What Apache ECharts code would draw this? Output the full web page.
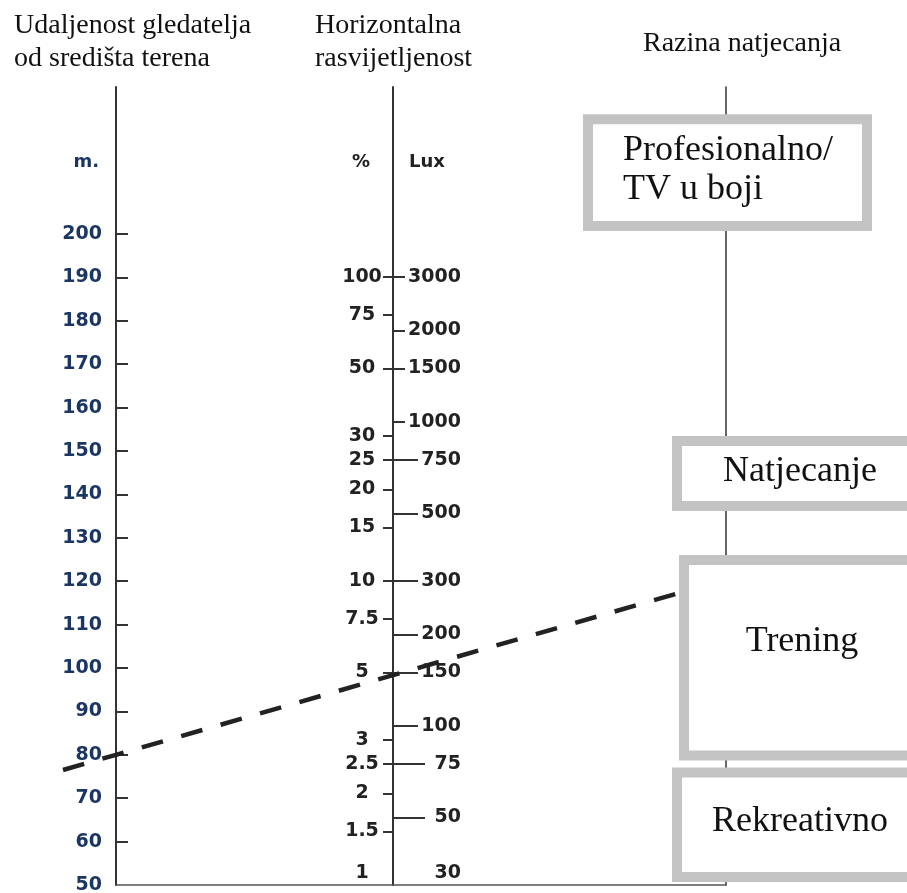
<!DOCTYPE html>
<html>
<head>
<meta charset="utf-8">
<title>Razina natjecanja - nomogram</title>
<script src="https://cdn.jsdelivr.net/npm/echarts@6/dist/echarts.min.js"></script>
<style>
  html, body { margin: 0; padding: 0; background: #fff; }
  #chart { width: 907px; height: 893px; }
</style>
</head>
<body>
<div id="chart"></div>
<script>
// values
const distanceLabels = [50, 60, 70, 80, 90, 100, 110, 120, 130, 140, 150, 160, 170, 180, 190, 200];
const distanceTicks = [60, 70, 80, 90, 100, 110, 120, 130, 140, 150, 160, 170, 180, 190, 200];
const percentLabels = [1, 1.5, 2, 2.5, 3, 5, 7.5, 10, 15, 20, 25, 30, 50, 75, 100];
const percentTicks = [1.5, 2, 2.5, 3, 5, 7.5, 10, 15, 20, 25, 30, 50, 75, 100];
const luxLabels = [30, 50, 75, 100, 150, 200, 300, 500, 750, 1000, 1500, 2000, 3000];
const luxShortTicks = [1000, 1500, 2000, 3000];
const luxMidTicks = [100, 150, 200, 300, 500, 750];
const luxLongTicks = [50, 75];
const levelNames = ['Profesionalno/\nTV u boji', 'Natjecanje', 'Trening', 'Rekreativno'];
const levelLuxTop = [10300, 900, 365, 73];
const levelLuxBottom = [4250, 510, 77, 30.7];
const readDistance = 80;   // m
const readLux = 147;       // lux (≈ 5 %)

// layout
const AXIS_L = 116, AXIS_M = 393, AXIS_R = 726;
const LINE_START = 63, LINE_END = 690;
const TOP = 87, BASE = 885;
const DIST_MAX = 50 + (BASE - TOP) / 4.34;     // 4.34 px per metre
const DECADES = (BASE - TOP) / 304;            // 304 px per decade
const LUX_MIN = Math.log10(30);
const SANS = 'DejaVu Sans';
const SERIF = '"Liberation Serif", "Times New Roman", serif';
const NAVY = '#1c3664';
const INK = '#222';
const levelBox = [
  { x0: 583, x1: 872, tx: 623, align: 'left', dy: -3 },
  { x0: 672, x1: 940, tx: 800, align: 'center', dy: -2 },
  { x0: 679, x1: 940, tx: 802, align: 'center', dy: -16 },
  { x0: 672, x1: 940, tx: 800, align: 'center', dy: -3 }
];

const log = v => Math.log10(v);
const span = AXIS_R - AXIS_L;
const tickLine = { color: '#333', width: 2 };
const lowRich = color => ({ lo: { padding: [0, 0, 24, 0], fontFamily: SANS, fontWeight: 'bold', fontSize: 19, color: color } });
function labelOf(list, value) {
  const hit = list.find(v => Math.abs(log(v) - value) < 1e-9);
  return hit === undefined ? '' : String(hit);
}

function renderLevel(params, api) {
  const i = params.dataIndex;
  const b = levelBox[i];
  const yTop = api.coord([0, api.value(1)])[1];
  const yBot = api.coord([0, api.value(2)])[1];
  return {
    type: 'group',
    children: [
      { type: 'rect', shape: { x: b.x0, y: yTop, width: b.x1 - b.x0, height: yBot - yTop }, style: { fill: '#c3c3c3' } },
      { type: 'rect', shape: { x: b.x0 + 10, y: yTop + 10, width: b.x1 - b.x0 - 20, height: yBot - yTop - 20 }, style: { fill: '#fff' } },
      { type: 'text', style: {
          text: levelNames[i], x: b.tx, y: (yTop + yBot) / 2 + b.dy,
          align: b.align, verticalAlign: 'middle',
          fontFamily: SERIF, fontSize: 36, lineHeight: 39, fill: '#111'
      } }
    ]
  };
}

const chart = echarts.init(document.getElementById('chart'));
const titleStyle = { fontFamily: SERIF, fontSize: 28, fontWeight: 'normal', color: '#111', lineHeight: 33 };

const option = {
  animation: false,
  backgroundColor: '#fff',
  title: [
    { text: 'Udaljenost gledatelja\nod središta terena', left: 14, top: 9, padding: 0, textStyle: titleStyle },
    { text: 'Horizontalna\nrasvijetljenost', left: 315, top: 9, padding: 0, textStyle: titleStyle },
    { text: 'Razina natjecanja', left: 643, top: 27, padding: 0, textStyle: titleStyle }
  ],
  graphic: [
    { type: 'text', x: 99, y: 162, silent: true, style: { text: 'm.', align: 'right', verticalAlign: 'middle', fontFamily: SANS, fontWeight: 'bold', fontSize: 18, fill: NAVY } },
    { type: 'text', x: 361, y: 162, silent: true, style: { text: '%', align: 'center', verticalAlign: 'middle', fontFamily: SANS, fontWeight: 'bold', fontSize: 18, fill: INK } },
    { type: 'text', x: 409, y: 162, silent: true, style: { text: 'Lux', align: 'left', verticalAlign: 'middle', fontFamily: SANS, fontWeight: 'bold', fontSize: 18, fill: INK } }
  ],
  grid: [
    { left: AXIS_L, right: 907 - AXIS_R, top: TOP, bottom: 893 - BASE, outerBoundsMode: 'none' },
    // same vertical scale, wider on the left, for the reading line
    { left: LINE_START, right: 907 - AXIS_R, top: TOP, bottom: 893 - BASE, outerBoundsMode: 'none' }
  ],
  xAxis: [
    {
      type: 'value', gridIndex: 0, min: 0, max: 1,
      axisLine: { show: true, onZero: false, lineStyle: { color: '#555', width: 1.5 } },
      axisTick: { show: false }, axisLabel: { show: false }, splitLine: { show: false }
    },
    {
      type: 'value', gridIndex: 1, min: (LINE_START - AXIS_L) / span, max: 1, show: false,
      axisLine: { onZero: false }, splitLine: { show: false }
    }
  ],
  yAxis: [
    { // distance, metres
      type: 'value', position: 'left', min: 50, max: DIST_MAX,
      axisLine: { show: true, onZero: false, lineStyle: { color: '#333', width: 2 } },
      axisTick: { show: true, inside: true, length: 12, customValues: distanceTicks, lineStyle: tickLine },
      axisLabel: { customValues: distanceLabels, margin: 14, color: NAVY, fontFamily: SANS, fontWeight: 'bold', fontSize: 19, showMinLabel: true, showMaxLabel: true },
      splitLine: { show: false }
    },
    { // illuminance, percent
      type: 'value', position: 'left', offset: AXIS_L - AXIS_M, min: 0, max: DECADES,
      axisLine: { show: true, onZero: false, lineStyle: { color: '#333', width: 2 } },
      axisTick: { show: true, length: 10, customValues: percentTicks.map(log), lineStyle: tickLine },
      axisLabel: {
        customValues: percentLabels.map(log), margin: 31, align: 'center',
        color: INK, fontFamily: SANS, fontWeight: 'bold', fontSize: 19, showMinLabel: true, showMaxLabel: true,
        formatter: v => v === 0 ? '{lo|1}' : labelOf(percentLabels, v), rich: lowRich(INK)
      },
      splitLine: { show: false }
    },
    { // illuminance, lux (labels + short ticks)
      type: 'value', position: 'right', offset: AXIS_M - AXIS_R, min: LUX_MIN, max: LUX_MIN + DECADES,
      axisLine: { show: false, onZero: false },
      axisTick: { show: true, length: 12, customValues: luxShortTicks.map(log), lineStyle: tickLine },
      axisLabel: {
        customValues: luxLabels.map(log), margin: 68, align: 'right',
        color: INK, fontFamily: SANS, fontWeight: 'bold', fontSize: 19, showMinLabel: true, showMaxLabel: true,
        formatter: v => v === LUX_MIN ? '{lo|30}' : labelOf(luxLabels, v), rich: lowRich(INK)
      },
      splitLine: { show: false }
    },
    { // lux, medium ticks
      type: 'value', position: 'right', offset: AXIS_M - AXIS_R, min: LUX_MIN, max: LUX_MIN + DECADES,
      axisLine: { show: false, onZero: false },
      axisTick: { show: true, length: 25, customValues: luxMidTicks.map(log), lineStyle: tickLine },
      axisLabel: { show: false }, splitLine: { show: false }
    },
    { // lux, long ticks
      type: 'value', position: 'right', offset: AXIS_M - AXIS_R, min: LUX_MIN, max: LUX_MIN + DECADES,
      axisLine: { show: false, onZero: false },
      axisTick: { show: true, length: 32, customValues: luxLongTicks.map(log), lineStyle: tickLine },
      axisLabel: { show: false }, splitLine: { show: false }
    },
    { // level of competition
      type: 'value', position: 'right', min: LUX_MIN, max: LUX_MIN + DECADES,
      axisLine: { show: true, onZero: false, lineStyle: { color: '#333', width: 1.5 } },
      axisTick: { show: false }, axisLabel: { show: false }, splitLine: { show: false }
    },
    { // distance scale copy for the reading line
      type: 'value', gridIndex: 1, min: 50, max: DIST_MAX, show: false,
      axisLine: { onZero: false }, splitLine: { show: false }
    }
  ],
  series: [
    {
      type: 'custom', name: 'Razina', xAxisIndex: 0, yAxisIndex: 2, z: 4, silent: true,
      renderItem: renderLevel,
      data: levelNames.map((n, i) => [0, log(levelLuxTop[i]), log(levelLuxBottom[i])])
    }
  ]
};
chart.setOption(option);

// reading line: joins the distance on the left scale with the lux value on the middle scale
const yMid = chart.convertToPixel({ yAxisIndex: 2 }, log(readLux));
const mAtMid = chart.convertFromPixel({ yAxisIndex: 0 }, yMid);
const xMid = (AXIS_M - AXIS_L) / span;
const slope = (mAtMid - readDistance) / xMid;
const xStart = (LINE_START - AXIS_L) / span;
const xEnd = (LINE_END - AXIS_L) / span;
chart.setOption({
  series: [
    option.series[0],
    {
      type: 'line', name: 'Očitanje', xAxisIndex: 1, yAxisIndex: 6, z: 3, clip: false, silent: true,
      symbol: 'none',
      lineStyle: { color: INK, width: 4.5, type: [22, 19] },
      data: [
        [xStart, readDistance + slope * xStart],
        [0, readDistance],
        [xMid, mAtMid],
        [xEnd, readDistance + slope * xEnd]
      ]
    }
  ]
});
</script>
</body>
</html>
